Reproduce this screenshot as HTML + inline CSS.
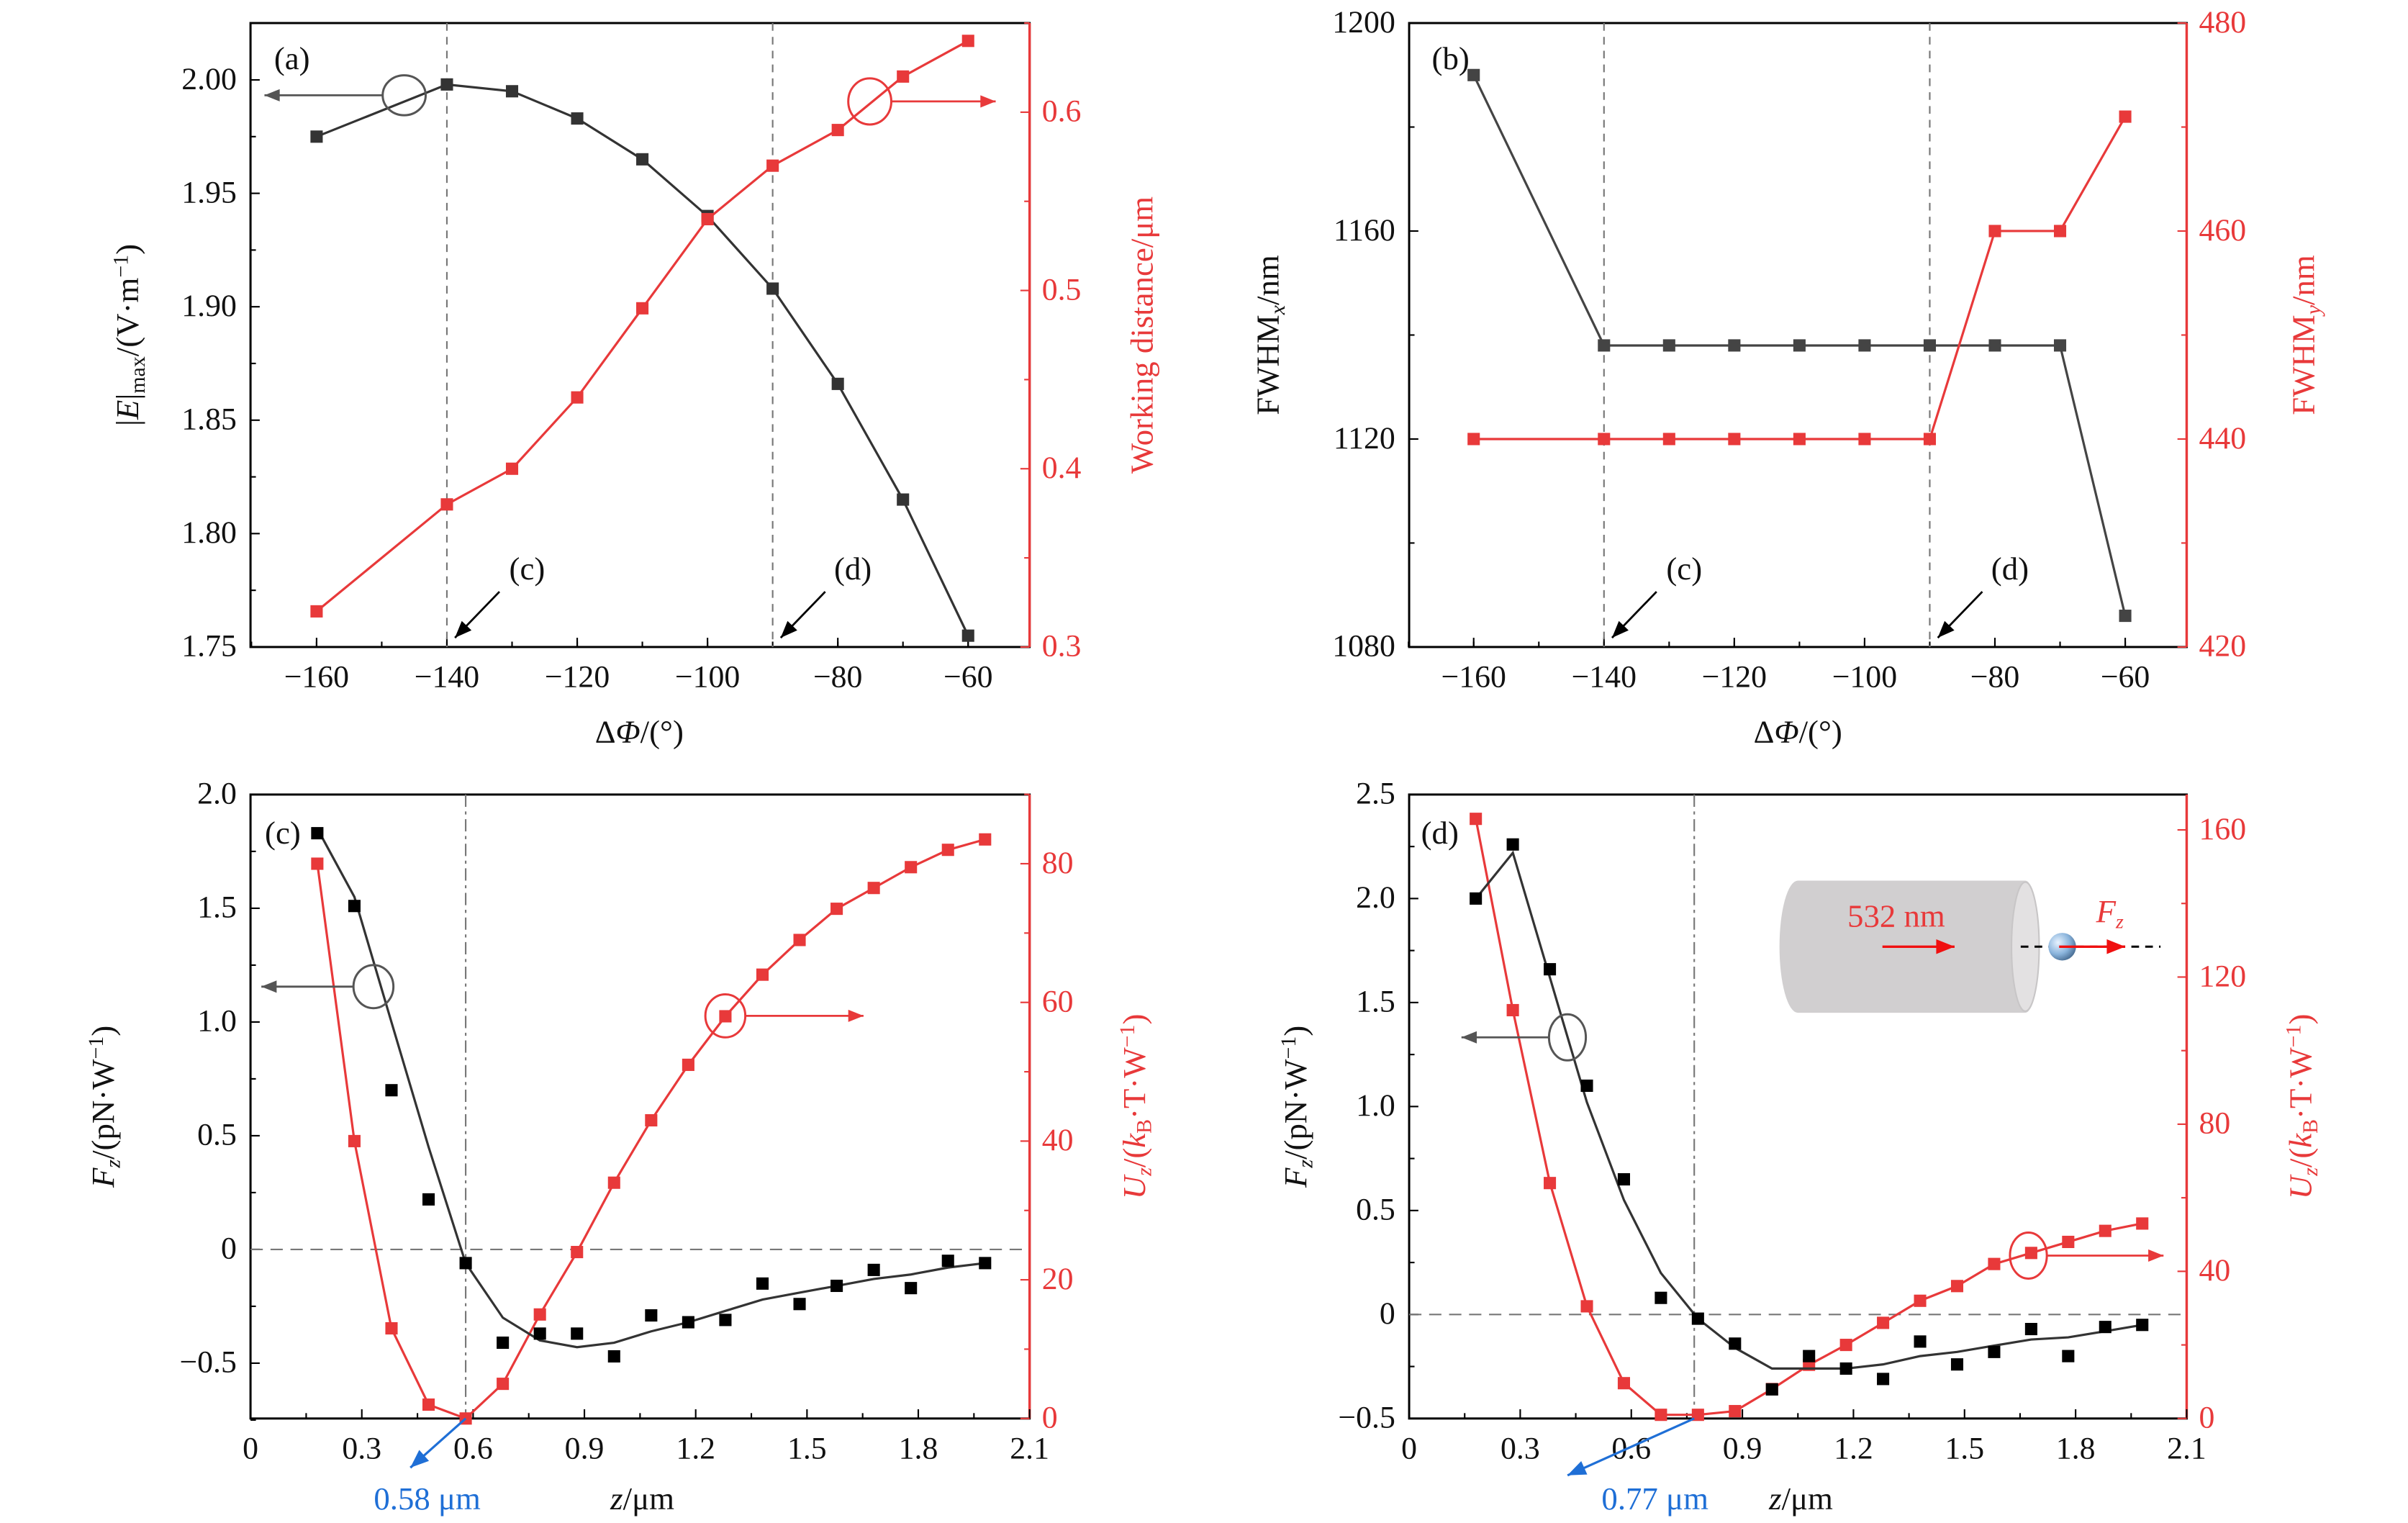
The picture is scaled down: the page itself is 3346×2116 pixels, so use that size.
<!DOCTYPE html>
<html><head><meta charset="utf-8"><style>
html,body{margin:0;padding:0;background:#fff}
svg{display:block}
text{font-family:"Liberation Serif",serif}
</style></head><body>
<svg id="fig" xmlns="http://www.w3.org/2000/svg" width="3346" height="2116" viewBox="0 0 1567 991"></svg>
<script>
// ---- data ----
const phiA = [-160,-140,-130,-120,-110,-100,-90,-80,-70,-60];
const emaxA = [1.975,1.998,1.995,1.983,1.965,1.940,1.908,1.866,1.815,1.755];
const wdA = [0.32,0.38,0.40,0.44,0.49,0.54,0.57,0.59,0.62,0.64];
const fwhmxB = [1190,1138,1138,1138,1138,1138,1138,1138,1138,1086];
const fwhmyB = [440,440,440,440,440,440,440,460,460,471];
const zC = [0.18,0.28,0.38,0.48,0.58,0.68,0.78,0.88,0.98,1.08,1.18,1.28,1.38,1.48,1.58,1.68,1.78,1.88,1.98];
const fzC = [1.83,1.51,0.70,0.22,-0.06,-0.41,-0.37,-0.37,-0.47,-0.29,-0.32,-0.31,-0.15,-0.24,-0.16,-0.09,-0.17,-0.05,-0.06];
const fzFitC = [1.85,1.55,1.00,0.45,-0.06,-0.30,-0.40,-0.43,-0.41,-0.36,-0.32,-0.27,-0.22,-0.19,-0.16,-0.13,-0.11,-0.08,-0.06];
const uzC = [80,40,13,2,0,5,15,24,34,43,51,58,64,69,73.5,76.5,79.5,82,83.5];
const zD = [0.18,0.28,0.38,0.48,0.58,0.68,0.78,0.88,0.98,1.08,1.18,1.28,1.38,1.48,1.58,1.68,1.78,1.88,1.98];
const fzD = [2.00,2.26,1.66,1.10,0.65,0.08,-0.02,-0.14,-0.36,-0.20,-0.26,-0.31,-0.13,-0.24,-0.18,-0.07,-0.20,-0.06,-0.05];
const fzFitD = [2.00,2.22,1.62,1.02,0.55,0.20,-0.02,-0.16,-0.26,-0.26,-0.26,-0.24,-0.20,-0.18,-0.15,-0.12,-0.11,-0.08,-0.05];
const uzD = [163,111,64,30.5,9.6,1,1,2,8,14.6,20,26,32,36,42,45,48,51,53];
const phiTicks = [-160,-140,-120,-100,-80,-60];
const zTicks = [0,0.3,0.6,0.9,1.2,1.5,1.8,2.1];

const NS="http://www.w3.org/2000/svg";
const svg=document.getElementById('fig');
function el(tag,attrs,parent,txt){const e=document.createElementNS(NS,tag);for(const k in attrs)e.setAttribute(k,attrs[k]);if(txt!==undefined)e.textContent=txt;(parent||svg).appendChild(e);return e;}
const RED="#e8393a", BLK="#333", TXT="#111";
function lin(d0,d1,r0,r1){return v=>r0+(v-d0)*(r1-r0)/(d1-d0);}
function fmt(v,dec){let s=v.toFixed(dec);if(v<0)s='\u2212'+s.slice(1);if(v===0)s='0';return s;}

function panel(name,box,xs,yl,yr,xt,xminor,ylt,ylminor,yrt,yrminor,xdec,yldec,yrdec){
  const g=el('g',{},svg);
  
  
  const [x0,y0,x1,y1]=box;
  const ax=el('rect',{x:x0,y:y0,width:x1-x0,height:y1-y0,fill:'none',stroke:'#000','stroke-width':1.4},g);
  
  
  el('line',{x1:x1,y1:y0,x2:x1,y2:y1,stroke:RED,'stroke-width':1.6},g);
  xt.forEach(v=>{const x=xs(v);el('line',{x1:x,y1:y1,x2:x,y2:y1-6,stroke:'#000'},g);
    const t=el('text',{x:x,y:y1+26,'font-size':20.5,'text-anchor':'middle',fill:TXT},g,fmt(v,xdec));
    });
  xminor.forEach(v=>{const x=xs(v);el('line',{x1:x,y1:y1,x2:x,y2:y1-3.5,stroke:'#000'},g);});
  ylt.forEach(v=>{const y=yl(v);el('line',{x1:x0,y1:y,x2:x0+6,y2:y,stroke:'#000'},g);
    const t=el('text',{x:x0-9,y:y+6,'font-size':20.5,'text-anchor':'end',fill:TXT},g,fmt(v,yldec));
    });
  ylminor.forEach(v=>{const y=yl(v);el('line',{x1:x0,y1:y,x2:x0+3.5,y2:y,stroke:'#000'},g);});
  yrt.forEach(v=>{const y=yr(v);el('line',{x1:x1,y1:y,x2:x1-6,y2:y,stroke:RED},g);
    const t=el('text',{x:x1+8,y:y+6,'font-size':20.5,'text-anchor':'start',fill:RED},g,fmt(v,yrdec));
    });
  yrminor.forEach(v=>{const y=yr(v);el('line',{x1:x1,y1:y,x2:x1-3.5,y2:y,stroke:RED},g);});
  return g;
}
function series(g,name,xs,ys,X,Y,color,markers,line,fitY){
  const pts=X.map((x,i)=>xs(x).toFixed(1)+','+ys((fitY||Y)[i]).toFixed(1)).join(' ');
  if(line){const p=el('polyline',{points:pts,fill:'none',stroke:color,'stroke-width':1.5},g);
    }
  if(markers)X.forEach((x,i)=>{const r=el('rect',{x:xs(x)-4,y:ys(Y[i])-4,width:8,height:8,fill:color},g);
    });
}
function range(a,b,s){const r=[];for(let v=a;v<=b+1e-9;v+=s)r.push(+v.toFixed(4));return r;}
function arrow(g,x1,y1,x2,y2,color,w,hs){el('line',{x1:x1,y1:y1,x2:x2-(x2-x1)*0.001,y2:y2,stroke:color,'stroke-width':w||1.3},g);
  const a=Math.atan2(y2-y1,x2-x1),s=hs||10;
  const p=[[x2,y2],[x2-s*Math.cos(a)+s*0.4*Math.sin(a),y2-s*Math.sin(a)-s*0.4*Math.cos(a)],[x2-s*Math.cos(a)-s*0.4*Math.sin(a),y2-s*Math.sin(a)+s*0.4*Math.cos(a)]];
  el('polygon',{points:p.map(q=>q.join(',')).join(' '),fill:color},g);}
function label(g,name,x,y,txt,rot,color,size){const t=el('text',{x:x,y:y,'font-size':size||21,'text-anchor':'middle',fill:color||TXT,transform:rot?`rotate(-90 ${x} ${y})`:''},g);t.innerHTML=txt;return t;}

// ---- panel a ----
{const xs=lin(-160,-60,206,630), yl=lin(1.75,2.0,421,52), yr=lin(0.3,0.6,421,73);
 const g=panel('panel-a',[163,15,670,421],xs,yl,yr,phiTicks,range(-170,-60,10),range(1.75,2.0,0.05),range(1.775,2.0,0.05),range(0.3,0.6,0.1),range(0.35,0.65,0.1),0,2,1);
 el('line',{x1:xs(-140),y1:15,x2:xs(-140),y2:421,stroke:'#777','stroke-dasharray':'5,4'},g);
 el('line',{x1:xs(-90),y1:15,x2:xs(-90),y2:421,stroke:'#777','stroke-dasharray':'5,4'},g);
 series(g,'emax',xs,yl,phiA,emaxA,BLK,true,true);
 series(g,'working-distance',xs,yr,phiA,wdA,RED,true,true);
 el('ellipse',{cx:263,cy:62,rx:14,ry:13,fill:'none',stroke:'#555','stroke-width':1.4},g);
 arrow(g,249,62,172,62,'#555');
 el('ellipse',{cx:566,cy:66,rx:14,ry:15,fill:'none',stroke:RED,'stroke-width':1.4},g);
 arrow(g,580,66,648,66,RED);
 arrow(g,325,385,296,415,'#000',1.3,11);arrow(g,537,385,508,415,'#000',1.3,11);
 label(g,'annotation-c',343,377,'(c)');label(g,'annotation-d',555,377,'(d)');
 label(g,'panel-label-a',190,45,'(a)');
 label(g,'x-axis-title',416,483,'Δ<tspan font-style="italic">Φ</tspan>/(°)');
 label(g,'y-left-axis-title',90,218,'|<tspan font-style="italic">E</tspan>|<tspan font-size="14" dy="4">max</tspan><tspan dy="-4">/(V·m</tspan><tspan font-size="14" dy="-7">−1</tspan><tspan dy="7">)</tspan>',true);
 label(g,'y-right-axis-title',750,218,'Working distance/μm',true,RED);
}
// ---- panel b ----
{const xs=lin(-160,-60,959,1383), yl=lin(1080,1200,421,15), yr=lin(420,480,421,15);
 const g=panel('panel-b',[917,15,1423,421],xs,yl,yr,phiTicks,range(-170,-60,10),range(1080,1200,40),range(1100,1180,40),range(420,480,20),range(430,470,20),0,0,0);
 el('line',{x1:xs(-140),y1:15,x2:xs(-140),y2:421,stroke:'#777','stroke-dasharray':'5,4'},g);
 el('line',{x1:xs(-90),y1:15,x2:xs(-90),y2:421,stroke:'#777','stroke-dasharray':'5,4'},g);
 series(g,'fwhm-x',xs,yl,phiA,fwhmxB,'#444',true,true);
 series(g,'fwhm-y',xs,yr,phiA,fwhmyB,RED,true,true);
 arrow(g,1078,385,1049,415,'#000',1.3,11);arrow(g,1290,385,1261,415,'#000',1.3,11);
 label(g,'annotation-c',1096,377,'(c)');label(g,'annotation-d',1308,377,'(d)');
 label(g,'panel-label-b',944,45,'(b)');
 label(g,'x-axis-title',1170,483,'Δ<tspan font-style="italic">Φ</tspan>/(°)');
 label(g,'y-left-axis-title',832,218,'FWHM<tspan font-size="14" font-style="italic" dy="4">x</tspan><tspan dy="-4">/nm</tspan>',true);
 label(g,'y-right-axis-title',1506,218,'FWHM<tspan font-size="14" font-style="italic" dy="4">y</tspan><tspan dy="-4">/nm</tspan>',true,RED);
}
// ---- panel c ----
{const xs=lin(0,2.1,163,670), yl=lin(-0.5,2.0,887,517), yr=lin(0,80,923,562);
 const g=panel('panel-c',[163,517,670,923],xs,yl,yr,zTicks,range(0.15,1.95,0.3),range(-0.5,2.0,0.5),range(-0.75,1.75,0.5),range(0,80,20),range(10,90,20),1,1,0);
 el('line',{x1:163,y1:yl(0),x2:670,y2:yl(0),stroke:'#777','stroke-dasharray':'8,5'},g);
 el('line',{x1:xs(0.58),y1:517,x2:xs(0.58),y2:923,stroke:'#777','stroke-dasharray':'8,3,2,3'},g);
 series(g,'uz',xs,yr,zC,uzC,RED,true,true);
 series(g,'fz-fit',xs,yl,zC,fzFitC,BLK,false,true,fzFitC);
 series(g,'fz',xs,yl,zC,fzC,'#000',true,false);
 el('ellipse',{cx:243,cy:642,rx:13,ry:14,fill:'none',stroke:'#555','stroke-width':1.4},g);
 arrow(g,230,642,170,642,'#555');
 el('ellipse',{cx:472,cy:661,rx:13,ry:14,fill:'none',stroke:RED,'stroke-width':1.4},g);
 arrow(g,485,661,562,661,RED);
 arrow(g,xs(0.58),923,267,955,'#1f6fd6',1.5,12);
 label(g,'zero-position-label',278,982,'0.58 μm',false,'#1f6fd6');
 label(g,'x-axis-title',418,982,'<tspan font-style="italic">z</tspan>/μm');
 label(g,'panel-label-c',184,549,'(c)');
 label(g,'y-left-axis-title',74,720,'<tspan font-style="italic">F</tspan><tspan font-size="14" font-style="italic" dy="4">z</tspan><tspan dy="-4">/(pN·W</tspan><tspan font-size="14" dy="-7">−1</tspan><tspan dy="7">)</tspan>',true);
 label(g,'y-right-axis-title',745,720,'<tspan font-style="italic">U</tspan><tspan font-size="14" font-style="italic" dy="4">z</tspan><tspan dy="-4">/(</tspan><tspan font-style="italic">k</tspan><tspan font-size="14" dy="4">B</tspan><tspan dy="-4">·T·W</tspan><tspan font-size="14" dy="-7">−1</tspan><tspan dy="7">)</tspan>',true,RED);
}
// ---- panel d ----
{const xs=lin(0,2.1,917,1423), yl=lin(-0.5,2.5,923,517), yr=lin(0,160,923,540);
 const g=panel('panel-d',[917,517,1423,923],xs,yl,yr,zTicks,range(0.15,1.95,0.3),range(-0.5,2.5,0.5),range(-0.25,2.25,0.5),range(0,160,40),range(20,140,40),1,1,0);
 el('line',{x1:917,y1:yl(0),x2:1423,y2:yl(0),stroke:'#777','stroke-dasharray':'8,5'},g);
 el('line',{x1:xs(0.77),y1:517,x2:xs(0.77),y2:923,stroke:'#777','stroke-dasharray':'8,3,2,3'},g);
 series(g,'uz',xs,yr,zD,uzD,RED,true,true);
 series(g,'fz-fit',xs,yl,zD,fzFitD,BLK,false,true,fzFitD);
 series(g,'fz',xs,yl,zD,fzD,'#000',true,false);
 el('ellipse',{cx:1020,cy:675,rx:12,ry:15,fill:'none',stroke:'#555','stroke-width':1.4},g);
 arrow(g,1008,675,951,675,'#555');
 el('ellipse',{cx:1320,cy:817,rx:12,ry:15,fill:'none',stroke:RED,'stroke-width':1.4},g);
 arrow(g,1332,817,1408,817,RED);
 arrow(g,xs(0.77),923,1020,960,'#1f6fd6',1.5,12);
 label(g,'zero-position-label',1077,982,'0.77 μm',false,'#1f6fd6');
 label(g,'x-axis-title',1172,982,'<tspan font-style="italic">z</tspan>/μm');
 label(g,'panel-label-d',937,549,'(d)');
 label(g,'y-left-axis-title',850,720,'<tspan font-style="italic">F</tspan><tspan font-size="14" font-style="italic" dy="4">z</tspan><tspan dy="-4">/(pN·W</tspan><tspan font-size="14" dy="-7">−1</tspan><tspan dy="7">)</tspan>',true);
 label(g,'y-right-axis-title',1504,720,'<tspan font-style="italic">U</tspan><tspan font-size="14" font-style="italic" dy="4">z</tspan><tspan dy="-4">/(</tspan><tspan font-style="italic">k</tspan><tspan font-size="14" dy="4">B</tspan><tspan dy="-4">·T·W</tspan><tspan font-size="14" dy="-7">−1</tspan><tspan dy="7">)</tspan>',true,RED);
 // inset
 const ins=el('g',{},g);
 
 
 el('path',{d:'M1170,573 L1318,573 A9,43 0 0 1 1318,659 L1170,659 A12,43 0 0 1 1170,573 Z',fill:'#d1cfd0'},ins);
 el('ellipse',{cx:1318,cy:616,rx:9,ry:42,fill:'#e3e1e2',stroke:'#c8c6c7'},ins);
 el('line',{x1:1315,y1:616,x2:1406,y2:616,stroke:'#000','stroke-width':1.4,'stroke-dasharray':'5,4'},ins);
 arrow(ins,1225,616,1272,616,'#f01010',1.6,12);
 el('defs',{},ins).innerHTML='<radialGradient id="ball" cx="0.35" cy="0.35" r="0.7"><stop offset="0" stop-color="#e8f3ff"/><stop offset="0.6" stop-color="#8ab4dc"/><stop offset="1" stop-color="#4a6f95"/></radialGradient>';
 el('circle',{cx:1342,cy:616,r:9,fill:'url(#ball)'},ins);
 arrow(ins,1340,616,1383,616,'#f01010',1.6,12);
 label(ins,'wavelength-label',1234,603,'532 nm',false,RED,21);
 label(ins,'force-label',1373,600,'<tspan font-style="italic">F</tspan><tspan font-size="13" font-style="italic" dy="4">z</tspan>',false,RED,21);
}
</script>
</body></html>
